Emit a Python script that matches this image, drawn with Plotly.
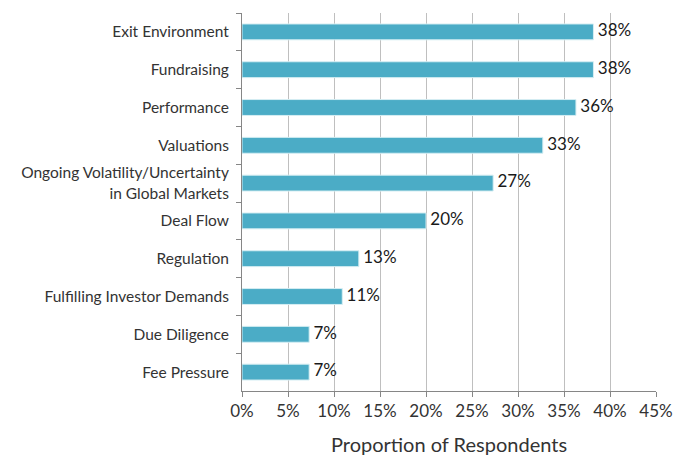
import plotly.graph_objects as go

categories = ["Exit Environment", "Fundraising", "Performance", "Valuations",
              "Ongoing Volatility/Uncertainty<br>in Global Markets", "Deal Flow",
              "Regulation", "Fulfilling Investor Demands", "Due Diligence", "Fee Pressure"]
values = [38.2, 38.2, 36.3, 32.7, 27.3, 20.0, 12.7, 10.9, 7.3, 7.3]
labels = ["38%", "38%", "36%", "33%", "27%", "20%", "13%", "11%", "7%", "7%"]

FONT = "Lato, Open Sans, sans-serif"

fig = go.Figure()
fig.add_trace(go.Bar(
    y=categories, x=values, orientation="h",
    marker=dict(color="#4BACC6", line=dict(color="#D6EEF3", width=1)),
    width=0.42, hoverinfo="skip",
))
fig.add_trace(go.Scatter(
    y=categories, x=values, mode="text", text=labels,
    texttemplate=" %{text}",
    textposition="middle right", cliponaxis=False,
    textfont=dict(size=17, color="#1a1a1a", family=FONT),
))

# page body has an 8px margin, so the figure is sized to fit inside the window
fig.update_layout(
    width=678, height=448,
    margin=dict(l=234, r=30, t=5, b=65, autoexpand=False),
    paper_bgcolor="white", plot_bgcolor="white",
    showlegend=False,
    font=dict(family=FONT, color="#333333"),
    xaxis=dict(
        range=[0, 45], dtick=5, ticksuffix="%", automargin=False,
        showgrid=True, gridcolor="#BFBFBF", gridwidth=1,
        ticks="outside", ticklen=5, tickcolor="#868686",
        showline=True, linecolor="#868686", linewidth=1,
        tickfont=dict(size=17, color="#333333"),
        title=dict(text="Proportion of Respondents", font=dict(size=20, color="#333333"), standoff=18),
        zeroline=False,
    ),
    yaxis=dict(
        autorange="reversed", automargin=False,
        showline=True, linecolor="#868686", linewidth=1,
        ticks="outside", ticklen=5, tickcolor="#868686", tickson="boundaries",
        ticklabelstandoff=9,
        tickfont=dict(size=15.5, color="#333333"),
        showgrid=False,
    ),
)

fig.write_html("out.html")
